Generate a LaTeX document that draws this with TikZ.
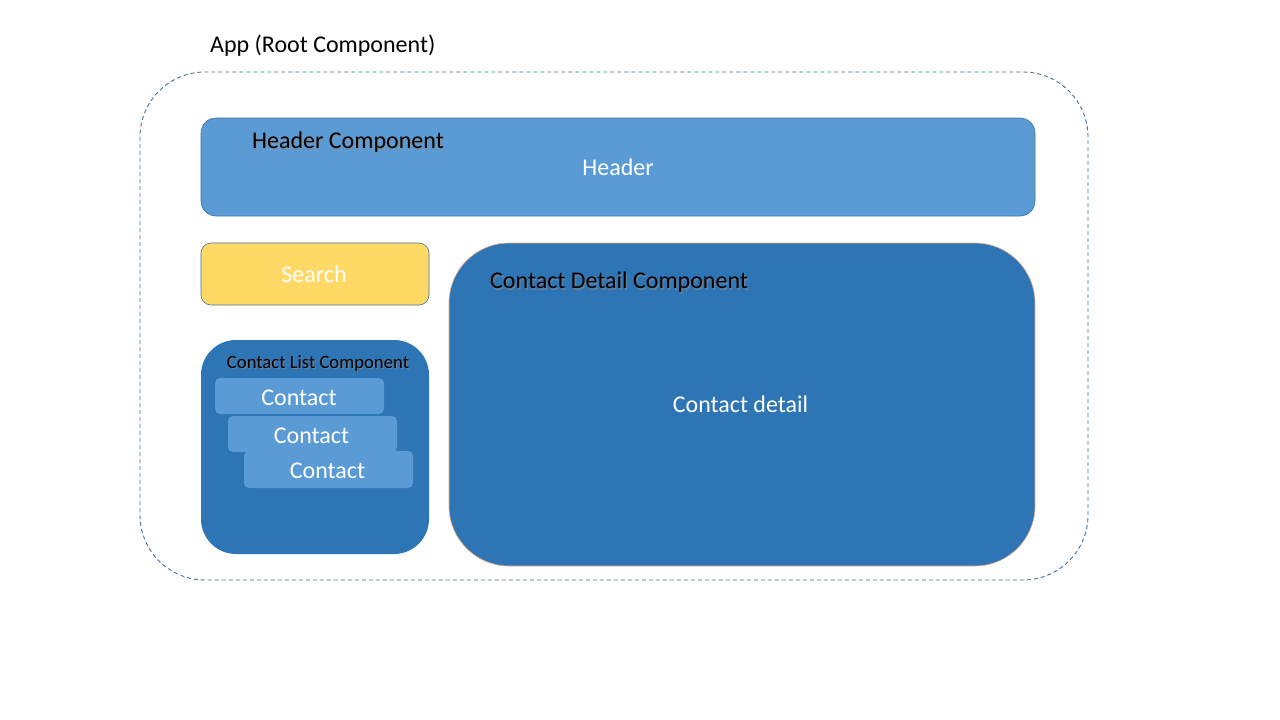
\documentclass[tikz,border=0pt]{standalone}
\usepackage{fontspec}
\setmainfont{Carlito}
\begin{document}
\begin{tikzpicture}[x=1pt,y=-1pt,
  box/.style={draw=#1, line width=0.6pt},
  lbl/.style={inner sep=0pt, font=\fontsize{24}{28}\selectfont},
  wlbl/.style={lbl, text=white},
  small/.style={inner sep=0pt, font=\fontsize{18.7}{22}\selectfont},
]
\definecolor{lightblue}{HTML}{5B9BD5}
\definecolor{darkblue}{HTML}{2E75B6}
\definecolor{edgeblue}{HTML}{41719C}
\definecolor{searchyellow}{HTML}{FFD966}
\definecolor{peach}{HTML}{F4B183}
\definecolor{shadowgray}{HTML}{8A8A8A}
\useasboundingbox (0,0) rectangle (1280,720);
\fill[white] (0,0) rectangle (1280,720);

% App root
\node[lbl, anchor=west] (apptitle) at (210,45.5) {App (Root Component)};
\draw[edgeblue, dash pattern=on 4pt off 3pt, line width=0.9pt, rounded corners=65pt] (140,72) rectangle (1088,580);
\coordinate (app) at (614,326);

% Header
\draw[box=edgeblue, fill=lightblue, rounded corners=15pt] (201,118) rectangle (1035,216);
\node[lbl, anchor=west, text=shadowgray, opacity=0.6] at (253.2,143.7) {Header Component};
\node[lbl, anchor=west] (headertitle) at (252,142.5) {Header Component};
\node[wlbl] (header) at (618,167.5) {Header};

% Search
\draw[box=edgeblue, fill=searchyellow, rounded corners=10pt] (201,243) rectangle (429,305);
\node[wlbl] (search) at (314,274.5) {Search};

% Contact list
\fill[darkblue, rounded corners=35pt] (201,340) rectangle (429,554);
\node[small, text=shadowgray, opacity=0.6] at (319.2,364.7) {Contact List Component};
\node[small] (listtitle) at (318,363.5) {Contact List Component};

\fill[lightblue, rounded corners=5pt] (215,378) rectangle (384,414);
\node[wlbl] (c1) at (299,397.5) {Contact};
\fill[lightblue, rounded corners=5pt] (228,416) rectangle (397,452);
\node[wlbl] (c2) at (311.5,435.5) {Contact};
\fill[lightblue, rounded corners=5pt] (244,451) rectangle (413,488);
\node[wlbl] (c3) at (327.5,470.5) {Contact};

% Contact detail
\draw[box=peach, fill=darkblue, rounded corners=60pt] (449,243) rectangle (1035,566);
\node[lbl, anchor=west, text=shadowgray, opacity=0.6] at (491.2,283.7) {Contact Detail Component};
\node[lbl, anchor=west] (detailtitle) at (490,282.5) {Contact Detail Component};
\node[wlbl] (detail) at (740.5,404.5) {Contact detail};
\end{tikzpicture}
\end{document}
